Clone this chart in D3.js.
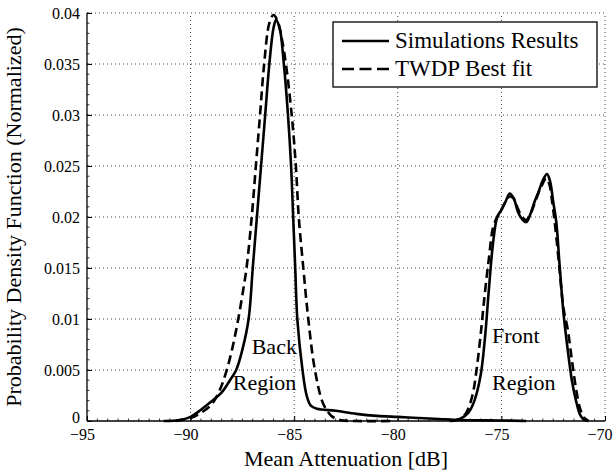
<!DOCTYPE html>
<html>
<head>
<meta charset="utf-8">
<script src="https://cdn.jsdelivr.net/npm/d3@7"></script>
<style>
body { margin: 0; background: #fff; }
svg text { font-family: 'Liberation Serif', 'Times New Roman', Times, serif; fill: #000; }
</style>
</head>
<body>
<div id="chart"></div>
<script>
// donnees (dB, pdf)
var simBackX = [-91.3, -90.5, -90.0, -89.5, -89.0, -88.5, -88.1, -87.8, -87.5, -87.2, -87.0, -86.8, -86.6, -86.4, -86.2, -86.0, -85.88, -85.7, -85.5, -85.3, -85.15, -85.05, -84.95, -84.85, -84.6, -84.4, -84.2, -83.9, -83.0, -82.0, -81.0, -80.0, -79.0, -78.0, -77.0, -75.0, -73.8];
var simBackY = [0, 0.0001, 0.0004, 0.0011, 0.0019, 0.0028, 0.0040, 0.0050, 0.0070, 0.0100, 0.0150, 0.0200, 0.0250, 0.0300, 0.0350, 0.0385, 0.0393, 0.0385, 0.0350, 0.0300, 0.0250, 0.0200, 0.0150, 0.0100, 0.0050, 0.0025, 0.0015, 0.0012, 0.0010, 0.0007, 0.0005, 0.0004, 0.0003, 0.0002, 0.0001, 0.00005, 0];

var simFrontX = [-77.5, -77.0, -76.6, -76.3, -76.0, -75.8, -75.6, -75.4, -75.2, -75.0, -74.8, -74.6, -74.4, -74.2, -74.0, -73.8, -73.6, -73.4, -73.2, -73.0, -72.8, -72.65, -72.5, -72.35, -72.2, -72.0, -71.8, -71.6, -71.4, -71.2, -71.0, -70.8];
var simFrontY = [0, 0.0002, 0.0008, 0.0020, 0.0045, 0.0080, 0.0130, 0.0175, 0.0200, 0.0207, 0.0215, 0.0223, 0.0218, 0.0205, 0.0198, 0.0195, 0.0203, 0.0215, 0.0225, 0.0236, 0.0242, 0.0235, 0.0215, 0.0195, 0.0155, 0.0105, 0.0070, 0.0040, 0.0020, 0.0006, 0.0001, 0];

var fitBackX = [-90.7, -90.0, -89.5, -89.0, -88.6, -88.3, -88.0, -87.7, -87.45, -87.3, -87.05, -86.85, -86.65, -86.45, -86.2, -86.0, -85.8, -85.6, -85.4, -85.12, -84.92, -84.78, -84.56, -84.32, -84.0, -83.6, -83.2, -82.8, -82.0, -80.3];
var fitBackY = [0, 0.0003, 0.0008, 0.0016, 0.0030, 0.0047, 0.0070, 0.0100, 0.0130, 0.0150, 0.0200, 0.0250, 0.0300, 0.0350, 0.0390, 0.0398, 0.0392, 0.0375, 0.0350, 0.0300, 0.0250, 0.0200, 0.0150, 0.0100, 0.0050, 0.0017, 0.0005, 0.0001, 0, 0];

var fitFrontX = [-77.4, -77.0, -76.7, -76.4, -76.2, -76.0, -75.8, -75.6, -75.4, -75.2, -75.0, -74.8, -74.6, -74.4, -74.2, -74.0, -73.8, -73.6, -73.4, -73.2, -73.0, -72.85, -72.7, -72.55, -72.4, -72.2, -72.0, -71.8, -71.6, -71.4, -71.2, -71.0, -70.8];
var fitFrontY = [0, 0.0002, 0.0008, 0.0025, 0.0050, 0.0085, 0.0125, 0.0160, 0.0190, 0.0200, 0.0207, 0.0215, 0.0220, 0.0218, 0.0208, 0.0200, 0.0197, 0.0203, 0.0213, 0.0224, 0.0233, 0.0238, 0.0233, 0.0215, 0.0190, 0.0150, 0.0110, 0.0090, 0.0060, 0.0032, 0.0012, 0.0003, 0];

var xTicks = [-95, -90, -85, -80, -75, -70];
var yTicks = [0, 0.005, 0.01, 0.015, 0.02, 0.025, 0.03, 0.035, 0.04];
var legendLabels = ["Simulations Results", "TWDP Best fit"];

var width = 613, height = 474;
var margin = {left: 87, right: 8, top: 13, bottom: 53};
var serif = "'Liberation Serif', 'Times New Roman', Times, serif";

var svg = d3.select("#chart").append("svg")
	.attr("width", width)
	.attr("height", height);

var x = d3.scaleLinear().domain([-95, -70]).range([margin.left, width - margin.right]);
var y = d3.scaleLinear().domain([0, 0.04]).range([height - margin.bottom, margin.top]);

//grille pointillee
var grid = svg.append("g").attr("stroke", "#444").attr("stroke-width", 1).attr("stroke-dasharray", "1,3");
grid.selectAll(".gx").data(xTicks.slice(1)).enter().append("line")
	.attr("x1", d => x(d)).attr("x2", d => x(d))
	.attr("y1", y(0)).attr("y2", y(0.04));
grid.selectAll(".gy").data(yTicks.slice(1)).enter().append("line")
	.attr("x1", x(-95)).attr("x2", x(-70))
	.attr("y1", d => y(d)).attr("y2", d => y(d));

//axes
var xAxis = d3.axisBottom(x).tickValues(xTicks).tickSize(-5).tickPadding(8)
	.tickFormat(d => d < 0 ? "\u2212" + Math.abs(d) : d);
var yAxis = d3.axisLeft(y).tickValues(yTicks).tickSize(-5).tickPadding(7)
	.tickFormat(d => d3.format("")(+d.toFixed(3)));

var minorX = d3.range(-95, -70.01, 0.5);
var minorY = d3.range(0, 0.0401, 0.001);

svg.append("g").selectAll("line").data(minorX).enter().append("line")
	.attr("x1", d => x(d)).attr("x2", d => x(d))
	.attr("y1", y(0)).attr("y2", y(0) - 2.5)
	.attr("stroke", "#000").attr("stroke-width", 0.8);
svg.append("g").selectAll("line").data(minorY).enter().append("line")
	.attr("x1", x(-95)).attr("x2", x(-95) + 2.5)
	.attr("y1", d => y(d)).attr("y2", d => y(d))
	.attr("stroke", "#000").attr("stroke-width", 0.8);

var gx = svg.append("g").attr("transform", "translate(0," + y(0) + ")").call(xAxis);
var gy = svg.append("g").attr("transform", "translate(" + x(-95) + ",0)").call(yAxis);
[gx, gy].forEach(function(g) {
	g.attr("font-family", null).attr("font-size", null);
	g.select(".domain").attr("stroke", "#000").attr("stroke-width", 1.3);
	g.selectAll(".tick line").attr("stroke", "#000").attr("stroke-width", 1);
	g.selectAll(".tick text").style("font-size", "16px").style("font-family", serif);
});
gx.select(".domain").attr("d", "M" + x(-95) + ",0H" + x(-70));
gy.select(".domain").attr("d", "M0," + y(0) + "V" + y(0.04));
// labels x un peu decales a gauche comme sur la figure
gx.selectAll(".tick text").attr("dx", -5);
// le dernier label touche le bord
gx.selectAll(".tick text").filter(d => d == -70).attr("text-anchor", "end").attr("dx", null).attr("x", 7);
// le "0" remonte un peu pour ne pas chevaucher -95
gy.selectAll(".tick text").filter(d => d == 0).attr("dy", "0.1em");

//courbes
var line = d3.line().x(d => x(d[0])).y(d => y(d[1])).curve(d3.curveCatmullRom.alpha(0.5));
function zipXY(a, b) { return a.map((v, i) => [v, b[i]]); }

var curves = [
	{pts: zipXY(simBackX, simBackY), dash: null},
	{pts: zipXY(simFrontX, simFrontY), dash: null},
	{pts: zipXY(fitBackX, fitBackY), dash: "9,5"},
	{pts: zipXY(fitFrontX, fitFrontY), dash: "9,5"}
];
svg.append("g").selectAll("path").data(curves).enter().append("path")
	.attr("d", d => line(d.pts))
	.attr("fill", "none")
	.attr("stroke", "#000")
	.attr("stroke-width", 2.6)
	.attr("stroke-dasharray", d => d.dash);

//annotations
var notes = [
	{t: "Back", x: -84.87, y: 0.0066, a: "end"},
	{t: "Region", x: -84.9, y: 0.0030, a: "end"},
	{t: "Front", x: -75.45, y: 0.0076, a: "start"},
	{t: "Region", x: -75.45, y: 0.0030, a: "start"}
];
svg.selectAll(".note").data(notes).enter().append("text")
	.attr("x", d => x(d.x)).attr("y", d => y(d.y))
	.attr("text-anchor", d => d.a)
	.style("font-size", "22px")
	.text(d => d.t);

//legende
var leg = svg.append("g");
leg.append("rect").attr("x", 333).attr("y", 22).attr("width", 264).attr("height", 65)
	.attr("fill", "#fff").attr("stroke", "#000").attr("stroke-width", 1.3);
leg.selectAll("line").data(legendLabels).enter().append("line")
	.attr("x1", 342).attr("x2", 389)
	.attr("y1", (d, i) => 41 + i * 28).attr("y2", (d, i) => 41 + i * 28)
	.attr("stroke", "#000").attr("stroke-width", 2.6)
	.attr("stroke-dasharray", (d, i) => i == 1 ? "12,5.5" : null);
leg.selectAll("text").data(legendLabels).enter().append("text")
	.attr("x", 395).attr("y", (d, i) => 48 + i * 28)
	.style("font-size", "23px")
	.text(d => d);

//titres des axes
svg.append("text").attr("x", x(-82.5)).attr("y", 466)
	.attr("text-anchor", "middle").style("font-size", "22px")
	.text("Mean Attenuation [dB]");
svg.append("text").attr("transform", "translate(21," + y(0.02) + ")rotate(-90)")
	.attr("text-anchor", "middle").style("font-size", "22px")
	.text("Probability Density Function (Normalized)");
</script>
</body>
</html>
